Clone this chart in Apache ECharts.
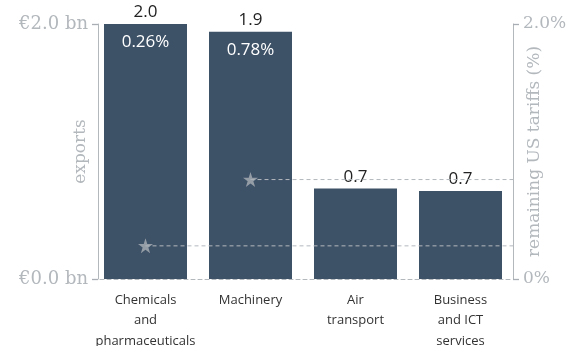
<!DOCTYPE html>
<html><head><meta charset="utf-8">
<script src="https://cdn.jsdelivr.net/npm/echarts@6/dist/echarts.min.js"></script>
<style>html,body{margin:0;padding:0;background:#fff}#c{width:569px;height:346px}</style>
</head><body><div id="c"></div>
<script>
var categories = ["Chemicals\nand\npharmaceuticals", "Machinery", "Air\ntransport", "Business\nand ICT\nservices"];
var exports = [2.0, 1.94, 0.71, 0.69];
var tariffs = [0.26, 0.78, null, null];
var leftTicks = [0, 2];
var rightTicks = [0, 2];

var barColor = '#3d5167';
var gray = '#b3b8bd';
var starPath = 'path://M50,0 L61.8,36.2 L100,36.2 L69.1,58.6 L80.9,95.1 L50,72.6 L19.1,95.1 L30.9,58.6 L0,36.2 L38.2,36.2 Z';

var series = [
  {
    type: 'bar', data: exports, barWidth: 83, itemStyle: {color: barColor},
    label: {show: true, position: 'top', distance: 3, color: '#222', fontFamily: 'Open Sans', fontSize: 17,
      formatter: function (p) { return p.value.toFixed(1); }},
    z: 2
  },
  {
    type: 'bar', data: exports, barWidth: 83, barGap: '-100%', silent: true,
    itemStyle: {color: 'rgba(0,0,0,0)'},
    label: {show: true, position: 'insideTop', distance: 10, color: '#fff', fontFamily: 'Open Sans', fontSize: 17,
      formatter: function (p) { var t = tariffs[p.dataIndex]; return t == null ? '' : t.toFixed(2) + '%'; }},
    z: 2
  }
];
tariffs.forEach(function (t, i) {
  if (t == null) return;
  series.push({
    type: 'line', xAxisIndex: 1, yAxisIndex: 1, symbol: 'none', silent: true,
    data: [[i + 0.5, t], [categories.length, t]],
    lineStyle: {color: gray, width: 1, type: [4, 3]}, z: 4
  });
});
series.push({
  type: 'scatter', xAxisIndex: 1, yAxisIndex: 1, symbol: starPath, symbolSize: 15,
  itemStyle: {color: '#aab0b7'},
  data: tariffs.map(function (t, i) { return t == null ? null : [i + 0.5, t]; }).filter(function (d) { return d; }),
  z: 6
});

var tickStyle = {show: true, inside: false, length: 6, interval: 0, lineStyle: {color: '#a9aeb4', width: 1.3}};
var chart = echarts.init(document.getElementById('c'));
chart.setOption({
  animation: false,
  grid: {left: 93, right: 56, top: 24, bottom: 67, containLabel: false, outerBoundsMode: 'none'},
  xAxis: [
    {type: 'category', data: categories, boundaryGap: true,
      axisTick: {show: false},
      axisLine: {show: true, lineStyle: {color: gray, type: [4, 3], width: 1}},
      axisLabel: {color: '#333', fontFamily: 'Open Sans', fontSize: 13, lineHeight: 20.5, margin: 11, interval: 0}},
    {type: 'value', min: 0, max: categories.length, show: false}
  ],
  yAxis: [
    {type: 'value', min: leftTicks[0], max: leftTicks[1], interval: leftTicks[1] - leftTicks[0], offset: -5,
      name: 'exports', nameLocation: 'middle', nameGap: 9, nameRotate: 90, nameMoveOverlap: false,
      nameTextStyle: {color: gray, fontFamily: 'DejaVu Serif', fontSize: 17},
      axisLine: {show: true, lineStyle: {color: gray, width: 1}},
      axisTick: tickStyle,
      splitLine: {show: false},
      axisLabel: {color: gray, fontFamily: 'DejaVu Serif', fontSize: 18, margin: 10, showMinLabel: true, showMaxLabel: true,
        formatter: function (v) { return '€' + v.toFixed(1) + ' bn'; }}},
    {type: 'value', position: 'right', min: rightTicks[0], max: rightTicks[1], interval: rightTicks[1] - rightTicks[0],
      name: 'remaining US tariffs (%)', nameLocation: 'middle', nameGap: 13, nameRotate: 90, nameMoveOverlap: false,
      nameTextStyle: {color: gray, fontFamily: 'DejaVu Serif', fontSize: 17},
      axisLine: {show: true, lineStyle: {color: gray, width: 1}},
      axisTick: tickStyle,
      splitLine: {show: false},
      axisLabel: {color: gray, fontFamily: 'DejaVu Serif', fontSize: 17, margin: 10, showMinLabel: true, showMaxLabel: true,
        formatter: function (v) { return v === 0 ? '0%' : v.toFixed(1) + '%'; }}}
  ],
  series: series
});
</script></body></html>
